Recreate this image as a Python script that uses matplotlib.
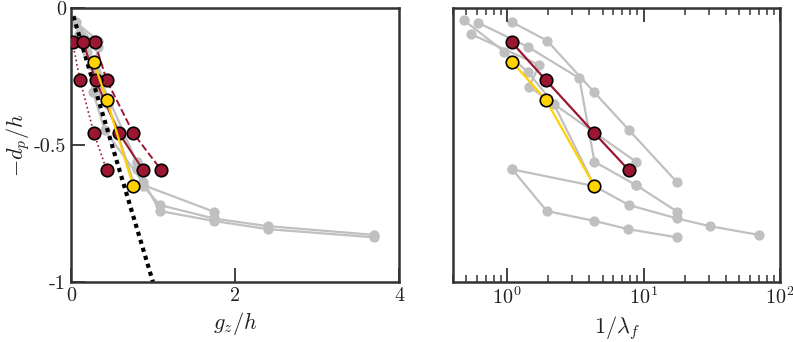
import numpy as np
import matplotlib
matplotlib.use('Agg')
import matplotlib.pyplot as plt

plt.rcParams['font.family'] = 'cmr10'
plt.rcParams['mathtext.fontset'] = 'cm'
plt.rcParams['axes.unicode_minus'] = False

# red cases: same depth levels, three gz/h scalings (dotted, solid, dashed)
red_dp = [-0.125, -0.263, -0.457, -0.591]
red_gz_dot = [0.02, 0.11, 0.28, 0.435]
red_gz_solid = [0.15, 0.30, 0.585, 0.88]
red_gz_dash = [0.29, 0.435, 0.76, 1.10]
red_lam = [1.08, 1.92, 4.36, 7.77]

# yellow case
yel_dp = [-0.197, -0.335, -0.65]
yel_gz = [0.28, 0.435, 0.76]
yel_lam = [1.09, 1.92, 4.36]

# grey background cases: depth, gz/h, 1/lambda_f
grey_dp = [
    [-0.052, -0.119, -0.308, -0.445, -0.636],
    [-0.044, -0.159, -0.232, -0.35, -0.65],
    [-0.054, -0.141, -0.256, -0.561, -0.646],
    [-0.096, -0.208, -0.287, -0.561],
    [-0.589, -0.65, -0.719, -0.768, -0.796, -0.828],
    [-0.589, -0.741, -0.777, -0.807, -0.837],
    [-0.646, -0.743],
]
grey_gz = [
    [0.06, 0.33, 0.27, 0.41, 0.88],
    [0.03, 0.20, 0.30, 0.45, 0.78],
    [0.05, 0.33, 0.35, 0.80, 0.88],
    [0.10, 0.25, 0.30, 0.80],
    [0.80, 0.88, 1.085, 1.74, 2.40, 3.70],
    [0.80, 1.085, 1.74, 2.40, 3.70],
    [0.88, 1.74],
]
grey_lam = [
    [1.09, 1.96, 4.36, 7.8, 17.6],
    [0.48, 0.95, 1.41, 2.2, 4.36],
    [0.615, 1.41, 3.38, 4.36, 8.8],
    [0.547, 1.72, 1.45, 8.8],
    [1.09, 4.36, 7.8, 17.6, 30.5, 70.0],
    [1.09, 1.95, 4.36, 7.7, 17.6],
    [8.8, 17.6],
]

red = '#9b1631'
yel = '#ffd200'
grey = '#c0c0c0'
spine = '#333333'

fig = plt.figure(figsize=(7.93, 3.42), dpi=100)
ax1 = fig.add_axes([0.0895, 0.1754, 0.4136, 0.801])
ax2 = fig.add_axes([0.5712, 0.1754, 0.4124, 0.801])

mk_grey = dict(marker='o', ms=7.4, color=grey, lw=1.6, mec='none')
mk_col = dict(marker='o', ms=9, mec='black', mew=1.2)

# left panel
for d, g in zip(grey_dp, grey_gz):
    ax1.plot(g, d, zorder=1, **mk_grey)
xx = np.linspace(0.03, 1.0, 50)
ax1.plot(xx, -xx, color='black', lw=3, ls=(0, (1, 1)), zorder=2)
ax1.plot(red_gz_dot, red_dp, color=red, lw=1.2, ls=':', mfc=red, zorder=3, **mk_col)
ax1.plot(red_gz_dash, red_dp, color=red, lw=1.4, ls='--', mfc=red, zorder=3, **mk_col)
ax1.plot(red_gz_solid, red_dp, color=red, lw=1.4, ls='-', mfc=red, zorder=3, **mk_col)
ax1.plot(yel_gz, yel_dp, color=yel, lw=1.6, mfc=yel, zorder=4, **mk_col)

ax1.set_xlim(0, 4)
ax1.set_ylim(-1, 0)
ax1.set_xticks([0, 2, 4])
ax1.set_xticklabels(['0', '2', '4'])
ax1.set_yticks([-1, -0.5, 0])
ax1.set_yticklabels(['-1', '-0.5', '0'])
ax1.tick_params(direction='in', length=10, width=1.3, labelsize=14.5, colors=spine,
                labelcolor='#222222')
ax1.set_xlabel('$g_z/h$', fontsize=16, color='#222222')
ax1.set_ylabel('$-d_p/h$', fontsize=16, color='#222222', labelpad=1)

# right panel
for d, l in zip(grey_dp, grey_lam):
    ax2.plot(l, d, zorder=1, **mk_grey)
ax2.plot(red_lam, red_dp, color=red, lw=1.6, mfc=red, zorder=3, **mk_col)
ax2.plot(yel_lam, yel_dp, color=yel, lw=1.6, mfc=yel, zorder=4, **mk_col)

ax2.set_xscale('log')
ax2.set_xlim(0.4, 100)
ax2.set_ylim(-1, 0)
ax2.set_yticks([])
ax2.set_xticks([1, 10, 100])
ax2.set_xticklabels(['$10^0$', '$10^1$', '$10^2$'])
ax2.tick_params(which='major', direction='in', length=10, width=1.3, top=True,
                labelsize=14.5, colors=spine, labelcolor='#222222')
ax2.tick_params(which='minor', direction='in', length=5, width=1.1, top=True,
                colors=spine)
ax2.set_xlabel('$1/\\lambda_f$', fontsize=16, color='#222222')

for ax in (ax1, ax2):
    for s in ax.spines.values():
        s.set_color(spine)
        s.set_linewidth(1.8)

fig.savefig('out.png', dpi=100)
